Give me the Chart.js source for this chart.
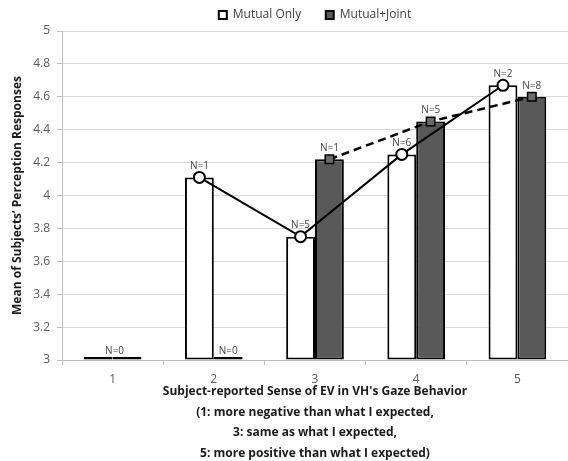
<!DOCTYPE html>
<html>
<head>
<meta charset="utf-8">
<script src="https://cdn.jsdelivr.net/npm/chart.js@4/dist/chart.umd.min.js"></script>
<style>
  html, body { margin: 0; padding: 0; background: #ffffff; }
  #wrap { width: 568px; height: 461px; }
</style>
</head>
<body>
<div id="wrap"><canvas id="c" width="568" height="461"></canvas></div>
<script>
// ---- data ----
const categories = ['1', '2', '3', '4', '5'];
const mutualOnlyMean  = [null, 4.11, 3.75, 4.25, 4.67];
const mutualJointMean = [null, null, 4.22, 4.45, 4.60];
const mutualOnlyN  = [0, 1, 5, 6, 2];
const mutualJointN = [0, 0, 1, 5, 8];
const yMin = 3, yMax = 5, yStep = 0.2;
const seriesNames = ['Mutual Only', 'Mutual+Joint'];
const xTitle = [
  'Subject-reported Sense of EV in VH\'s Gaze Behavior',
  '(1: more negative than what I expected,',
  '3: same as what I expected,',
  '5: more positive than what I expected)'
];
const yTitle = 'Mean of Subjects\u2019 Perception Responses';

// bars with no subjects sit on the axis floor
const barOnly  = mutualOnlyMean.map(v => v === null ? yMin : v);
const barJoint = mutualJointMean.map(v => v === null ? yMin : v);

const FONT = "'Open Sans', 'Noto Sans', sans-serif";

// line points are placed over the centre of their own bar
const alignPoints = {
  id: 'alignPoints',
  afterDatasetsUpdate(chart) {
    [[2, 0], [3, 1]].forEach(([li, bi]) => {
      const lm = chart.getDatasetMeta(li), bm = chart.getDatasetMeta(bi);
      lm.data.forEach((pt, i) => { pt.x = bm.data[i].x; });
    });
  }
};

// "N=" annotations
const nLabels = {
  id: 'nLabels',
  afterDatasetsDraw(chart) {
    const ctx = chart.ctx;
    ctx.save();
    ctx.font = '10px ' + FONT;
    ctx.fillStyle = '#404040';
    ctx.textAlign = 'center';
    ctx.textBaseline = 'middle';
    const counts = [mutualOnlyN, mutualJointN];
    [2, 3].forEach((li, s) => {
      chart.getDatasetMeta(li).data.forEach((pt, i) => {
        if (!pt.skip && counts[s][i] > 0) ctx.fillText('N=' + counts[s][i], pt.x, pt.y - 11);
      });
    });
    const b0 = chart.getDatasetMeta(0).data, b1 = chart.getDatasetMeta(1).data;
    const yBase = chart.scales.y.getPixelForValue(yMin) - 9;
    categories.forEach((c, i) => {
      if (mutualOnlyN[i] === 0 && mutualJointN[i] === 0) {
        ctx.fillText('N=0', (b0[i].x + b1[i].x) / 2 + 2, yBase);
      } else if (mutualOnlyN[i] === 0) {
        ctx.fillText('N=0', b0[i].x, yBase);
      } else if (mutualJointN[i] === 0) {
        ctx.fillText('N=0', b1[i].x, yBase);
      }
    });
    ctx.restore();
  }
};

new Chart(document.getElementById('c'), {
  type: 'bar',
  data: {
    labels: categories,
    datasets: [
      { type: 'bar', label: seriesNames[0], data: barOnly, base: yMin, backgroundColor: '#ffffff',
        borderColor: '#000000', borderWidth: 2, borderSkipped: false, minBarLength: 3, order: 2 },
      { type: 'bar', label: seriesNames[1], data: barJoint, base: yMin, backgroundColor: '#595959',
        borderColor: '#000000', borderWidth: 2, borderSkipped: false, minBarLength: 3, order: 2 },
      { type: 'line', label: seriesNames[0] + ' line', data: mutualOnlyMean, borderColor: '#000000',
        borderWidth: 2, pointStyle: 'circle', pointRadius: 5.5, pointBackgroundColor: '#ffffff',
        pointBorderColor: '#000000', pointBorderWidth: 2, tension: 0, spanGaps: false, order: 1 },
      { type: 'line', label: seriesNames[1] + ' line', data: mutualJointMean, borderColor: '#000000',
        borderWidth: 2.5, borderDash: [8, 5], pointStyle: 'rect', pointRadius: 6,
        pointBackgroundColor: '#6a6a6a', pointBorderColor: '#000000', pointBorderWidth: 1.5,
        tension: 0, spanGaps: false, order: 0 }
    ]
  },
  options: {
    responsive: false,
    animation: false,
    events: [],
    layout: { autoPadding: false, padding: { left: 0, right: 0, top: 0, bottom: 0 } },
    datasets: { bar: { categoryPercentage: 0.57, barPercentage: 1.0 } },
    plugins: {
      tooltip: { enabled: false },
      legend: {
        position: 'top',
        fullSize: false,
        labels: {
          font: { family: FONT, size: 12 },
          color: '#404040',
          boxWidth: 8,
          boxHeight: 8,
          padding: 9,
          filter: item => item.datasetIndex < 2,
          generateLabels(chart) {
            const items = Chart.defaults.plugins.legend.labels.generateLabels(chart);
            items.forEach(it => { it.lineWidth = 2; if (it.datasetIndex === 0) it.text = it.text + '     '; });
            return items;
          }
        }
      }
    },
    scales: {
      x: {
        offset: true,
        grid: { display: true, drawOnChartArea: false, drawTicks: true, tickLength: 5, color: '#bfbfbf', offset: true },
        border: { display: true, color: '#bfbfbf', width: 1 },
        ticks: { font: { family: FONT, size: 12 }, color: '#595959', padding: 7 },
        title: { display: true, text: xTitle, color: '#1a1a1a',
          font: { family: FONT, size: 12, weight: 'bold', lineHeight: 1.725 },
          padding: { top: 0, bottom: -3 } },
        afterFit(scale) { scale.height = 101; scale.paddingLeft = 0; scale.paddingRight = 0; }
      },
      y: {
        min: yMin, max: yMax,
        ticks: { stepSize: yStep, font: { family: FONT, size: 12 }, color: '#595959', padding: 7,
          callback: v => String(Number(v.toFixed(1))) },
        grid: { color: '#d9d9d9', lineWidth: 1, drawTicks: true, tickLength: 5, tickColor: '#bfbfbf' },
        border: { display: true, color: '#bfbfbf', width: 1 },
        title: { display: true, text: yTitle, color: '#1a1a1a',
          font: { family: FONT, size: 12, weight: 'bold', lineHeight: 1.2 },
          padding: { top: 10, bottom: 0 } },
        afterFit(scale) { scale.width = 62; scale.paddingTop = 0; scale.paddingBottom = 0; }
      }
    }
  },
  plugins: [alignPoints, nLabels]
});
</script>
</body>
</html>
